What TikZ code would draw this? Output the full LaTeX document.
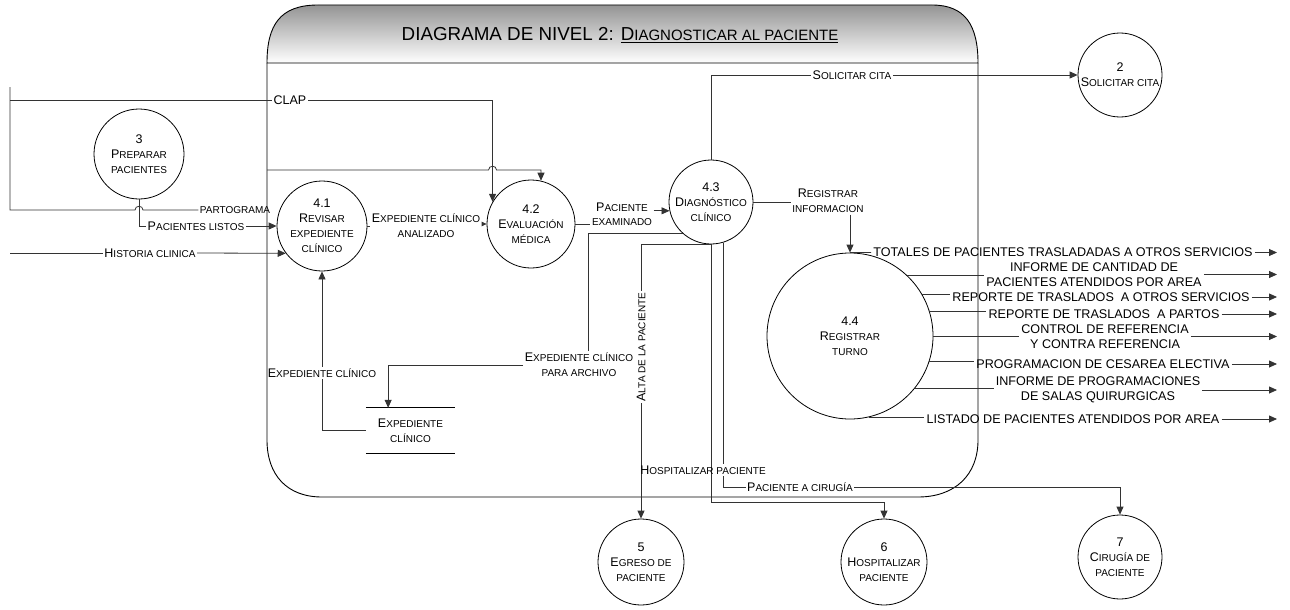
\documentclass[tikz,border=0pt]{standalone}
\usepackage{fontspec}
\setmainfont{Liberation Sans}
\usetikzlibrary{arrows.meta,calc}

% small-caps imitation: the capitalised rest of a word at a reduced size
\newcommand\sk[1]{{\fontsize{10}{15}\selectfont #1}}
\newcommand\tk[1]{{\fontsize{15}{22}\selectfont #1}}

\tikzset{
  every node/.style={font=\fontsize{12.5}{15}\selectfont, text=black},
  proc/.style={draw, circle, inner sep=0pt, align=center, line width=0.8pt},
  lbl/.style={inner sep=1.5pt, align=center},
  outlbl/.style={inner sep=2pt, align=center, font=\fontsize{12.6}{15}\selectfont},
  conn/.style={draw=black!80, line width=0.8pt},
  flow/.style={conn, -{Triangle[length=8pt,width=7pt]}},
  smallflow/.style={conn, -{Triangle[length=5pt,width=4.5pt]}},
}

\begin{document}
\begin{tikzpicture}[x=1pt,y=-1pt]
\useasboundingbox (0,0) rectangle (1290,610);

% ---- process boundary with shaded title bar ----
\shade[top color=black!42, bottom color=white]
  (267,63) .. controls (267,25) and (280,5) .. (318,5)
  -- (932,5) .. controls (965,5) and (978,25) .. (978,63) -- cycle;
\draw[line width=0.9pt]
  (267,63) .. controls (267,25) and (280,5) .. (318,5)
  -- (932,5) .. controls (965,5) and (978,25) .. (978,63) -- cycle;
\draw[line width=0.9pt]
  (267,63) -- (267,440) .. controls (267,475) and (287,497) .. (322,497)
  -- (918,497) .. controls (955,497) and (978,475) .. (978,440) -- (978,63);
\node (title) at (620,35) {\fontsize{18.8}{22}\selectfont DIAGRAMA DE NIVEL 2: \underline{D\tk{IAGNOSTICAR AL PACIENTE}}};

% ---- processes ----
\node[proc, minimum size=90pt] (n3)  at (139,154) {3\\P\sk{REPARAR}\\\sk{PACIENTES}};
\node[proc, minimum size=90pt] (n41) at (322,226) {4.1\\R\sk{EVISAR}\\\sk{EXPEDIENTE}\\\sk{CLÍNICO}};
\node[proc, minimum size=88pt] (n42) at (531,224) {4.2\\E\sk{VALUACIÓN}\\\sk{MÉDICA}};
\node[proc, minimum size=84pt] (n43) at (711,202) {4.3\\D\sk{IAGNÓSTICO}\\\sk{CLÍNICO}};
\node[proc, minimum size=166pt] (n44) at (850,336) {4.4\\R\sk{EGISTRAR}\\\sk{TURNO}};
\node[proc, minimum size=84pt] (n2)  at (1120,75) {2\\S\sk{OLICITAR CITA}};
\node[proc, minimum size=86pt] (n5)  at (641,562) {5\\E\sk{GRESO DE}\\\sk{PACIENTE}};
\node[proc, minimum size=86pt] (n6)  at (884,562) {6\\H\sk{OSPITALIZAR}\\\sk{PACIENTE}};
\node[proc, minimum size=84pt] (n7)  at (1120,557) {7\\C\sk{IRUGÍA DE}\\\sk{PACIENTE}};

% ---- data store ----
\node[minimum width=89pt, minimum height=45pt, inner sep=0pt, align=center] (store) at (410.5,430.5) {E\sk{XPEDIENTE}\\\sk{CLÍNICO}};
\draw[line width=0.8pt] (store.north west) -- (store.north east);
\draw[line width=0.8pt] (store.south west) -- (store.south east);

% ---- incoming flows on the left ----
\coordinate (srcTop) at (10,87);
\coordinate (clapIn) at (10,100);
\coordinate (partoIn) at (10,210);
\coordinate (histIn) at (10,253);
\coordinate (bIn) at (267,170);

\node[lbl] (clap)  at (290,100) {CLAP};
\node[lbl] (parto) at (235,210) {\sk{PARTOGRAMA}};
\node[lbl] (plist) at (196,226) {P\sk{ACIENTES LISTOS}};
\node[lbl] (hist)  at (150,253) {H\sk{ISTORIA CLINICA}};

\draw[conn] (srcTop) -- (partoIn)
  -- ($(n3.south |- partoIn)+(-4,0)$) .. controls +(0,-5) and +(0,-5) .. ($(n3.south |- partoIn)+(4,0)$)
  -- (parto.west);
\draw[conn] (clapIn) -- (clap.west);
\draw[flow] (clap.east) -| (n42.150);
\draw[conn] (n3.south) |- (plist.west);
\draw[flow] (plist.east) -- (n41.west);
\draw[conn] (histIn) -- (hist.west);
\draw[flow] (hist.east) -- (n41.217);
\draw[flow] (bIn) -- ($(bIn -| n42.150)+(-4,0)$) .. controls +(0,-5) and +(0,-5) .. ($(bIn -| n42.150)+(4,0)$)
  -| (n42.77);

% ---- flows between 4.1, 4.2 and 4.3 ----
\node[lbl] (eca) at (426,226) {E\sk{XPEDIENTE CLÍNICO}\\\sk{ANALIZADO}};
\draw[conn] (n41.east) -- (eca.west |- n41.east);
\draw[smallflow] (eca.east |- n42.west) -- (n42.west);

\node[lbl, font=\fontsize{12.5}{14}\selectfont] (pe) at (622,214) {P\sk{ACIENTE}\\\sk{EXAMINADO}};
\draw[conn] (n42.east) -- (pe.west |- n42.east);
\draw[flow] (pe.east |- n43.192) -- (n43.192);

% ---- flows leaving 4.3 ----
\node[lbl] (sc) at (852,75) {S\sk{OLICITAR CITA}};
\draw[conn] (n43.north) |- (sc.west);
\draw[flow] (sc.east) -- (n2.west);

\node[lbl] (ri) at (828,201) {R\sk{EGISTRAR}\\\sk{INFORMACION}};
\draw[conn] (n43.east) -- (ri.west |- n43.east);
\draw[flow] (ri.south -| n44.north) -- (n44.north);

\coordinate (archV) at (588,0);
\node[lbl] (epa) at (579,365) {E\sk{XPEDIENTE CLÍNICO}\\\sk{PARA ARCHIVO}};
\draw[conn] (n43.228) -- (n43.228 -| archV) -- (archV |- epa.north);
\draw[flow] (epa.west) -| ($(store.north west)!0.25!(store.north east)$);

\node[lbl] (ecs) at (322,373) {E\sk{XPEDIENTE CLÍNICO}};
\draw[conn] (store.west) -| (ecs.south);
\draw[flow] (ecs.north) -- (n41.south);

\node[lbl, rotate=90] (alta) at (641,347) {A\sk{LTA DE LA PACIENTE}};
\draw[conn] (n43.south) -| (alta.east);
\draw[flow] (alta.west) -- (n5.north);

\coordinate (hospRow) at (0,502);
\draw[flow] (n43.south) |- (hospRow -| n6.north) -- (n6.north);
\node[lbl] (hosp) at (703,470) {H\sk{OSPITALIZAR PACIENTE}};

\node[lbl] (cir) at (800,487) {P\sk{ACIENTE A CIRUGÍA}};
\draw[conn] (n43.287) -- (n43.287 |- hosp.north);
\draw[conn] (n43.287 |- hosp.south) |- (cir.west);
\draw[flow] (cir.east) -| (n7.north);

% ---- reports produced by 4.4 ----
\coordinate (outEnd) at (1277,0);
\node[outlbl] (o1) at (1063,252.5) {TOTALES DE PACIENTES TRASLADADAS A OTROS SERVICIOS};
\node[outlbl] (o2) at (1094,274.5) {INFORME DE CANTIDAD DE\\PACIENTES ATENDIDOS POR AREA};
\node[outlbl] (o3) at (1101,297) {REPORTE DE TRASLADOS\ \ A OTROS SERVICIOS};
\node[outlbl] (o4) at (1104,314) {REPORTE DE TRASLADOS\ \ A PARTOS};
\node[outlbl] (o5) at (1105,336.5) {CONTROL DE REFERENCIA\\Y CONTRA REFERENCIA};
\node[outlbl] (o6) at (1103,364) {PROGRAMACION DE CESAREA ELECTIVA};
\node[outlbl] (o7) at (1098,390) {INFORME DE PROGRAMACIONES\\DE SALAS QUIRURGICAS};
\node[outlbl] (o8) at (1073,419) {LISTADO DE PACIENTES ATENDIDOS POR AREA};

\draw[conn] (n44.north) -- (o1.west);
\draw[conn] (n44.47)  -- (n44.47 -| o2.west);
\draw[conn] (n44.30)  -- (n44.30 -| o3.west);
\draw[conn] (n44.17)  -- (n44.17 -| o4.west);
\draw[conn] (n44.east) -- (n44.east -| o5.west);
\draw[conn] (n44.342) -- (n44.342 -| o6.west);
\draw[conn] (n44.321) -- (n44.321 -| o7.west);
\draw[conn] (n44.283) -- (n44.283 -| o8.west);
\foreach \o in {o1,o2,o3,o4,o5,o6,o7,o8}
  \draw[flow] (\o.east) -- (\o.east -| outEnd);

\end{tikzpicture}
\end{document}
